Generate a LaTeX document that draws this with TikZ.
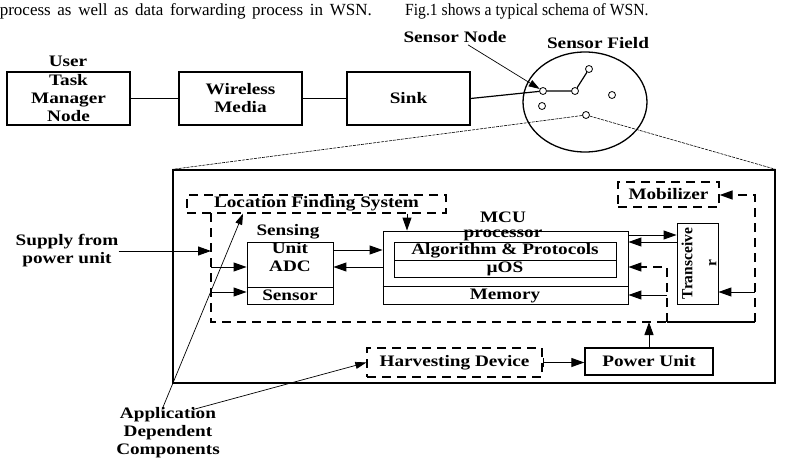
\documentclass[tikz,border=0pt]{standalone}
\usepackage{fontspec}
\setmainfont{Liberation Serif}[FakeStretch=1.2]
\newfontfamily\plainfont{Liberation Serif}
\usetikzlibrary{arrows.meta,shapes.geometric,calc}
\begin{document}
\begin{tikzpicture}[x=1pt,y=-1pt,
  font=\fontsize{16}{18}\selectfont\bfseries,
  box/.style={draw, line width=1.3pt, inner sep=0pt, align=center},
  ibox/.style={draw, line width=0.9pt, inner sep=0pt, align=center},
  dbox/.style={draw, line width=1.3pt, dash pattern=on 9pt off 6pt, inner sep=0pt, align=center},
  dline/.style={line width=1.3pt, dash pattern=on 9pt off 6pt},
  txt/.style={inner sep=0pt, align=center},
  tip/.style={-{Triangle[length=13pt,width=9pt]}},
  arr/.style={tip, line width=1pt},
  tarr/.style={-{Triangle[length=11pt,width=7pt]}, line width=0.7pt},
  fine/.style={line width=0.6pt, dash pattern=on 3pt off 1pt},
  sn/.style={draw, circle, minimum size=7pt, inner sep=0pt, line width=0.8pt}]
\useasboundingbox (0,0) rectangle (787,460);
% running text
\node[inner sep=0pt, anchor=base east, font=\plainfont\mdseries\fontsize{17}{18}\selectfont] (t1) at (372,16)
  {\makebox[372pt][s]{process as well as data forwarding process in WSN.}};
\node[inner sep=0pt, anchor=base west, font=\plainfont\mdseries\fontsize{17}{18}\selectfont] (t2) at (405,16)
  {\scalebox{0.92}[1]{Fig.1 shows a typical schema of WSN.}};
% top chain
\node[box, minimum width=123pt, minimum height=53pt] (um) at (68.5,98.5) {Task\\Manager\\Node};
\node[txt] (user) at (68,61) {User};
\node[box, minimum width=123pt, minimum height=53pt] (wm) at (240.5,98.5) {Wireless\\Media};
\node[box, minimum width=123pt, minimum height=53pt] (sink) at (408.5,98.5) {Sink};
\draw[line width=1.2pt] (um) -- (wm);
\draw[line width=1.2pt] (wm) -- (sink);
% sensor field
\node[draw, ellipse, minimum width=124pt, minimum height=100pt, line width=1.3pt] (field) at (585,102) {};
\node[sn] (s1) at (543,91) {};
\node[sn] (s2) at (575,91) {};
\node[sn] (s3) at (589,69) {};
\node[sn] (s4) at (612,95) {};
\node[sn] (s5) at (542,106) {};
\node[sn] (s6) at (586,115) {};
\draw[line width=1.2pt] (s1) -- (s2) -- (s3);
\draw[line width=1.2pt] (sink.east) -- (s1);
\node[txt] (snl) at (455,37) {Sensor Node};
\node[txt] (sfl) at (598,43) {Sensor Field};
\draw[tarr] ([xshift=13pt,yshift=-2pt]snl.south) -- (s1);
% big box
\node[box, minimum width=602pt, minimum height=213pt] (big) at (474,276.5) {};
\draw[fine] (s6) -- (big.north west);
\draw[fine] (s6) -- (big.north east);
\node[dbox, minimum width=259pt, minimum height=18pt] (lfs) at (316.5,204) {Location Finding System};
\node[dbox, minimum width=101pt, minimum height=25pt] (mob) at (668.5,194.5) {Mobilizer};
% MCU
\node[ibox, minimum width=245pt, minimum height=73pt] (mcu) at (505.5,267.5) {};
\node[ibox, minimum width=222pt, minimum height=18pt] (alg) at (505,251) {Algorithm \& Protocols};
\node[ibox, minimum width=222pt, minimum height=17pt] (os) at (505,268.5) {µOS};
\draw[line width=0.9pt] (mcu.west |- 0,286) -- (mcu.east |- 0,286);
\node[txt] (mem) at (505,295.5) {Memory};
\node[txt] (mcul) at (503,217.5) {MCU};
\node[txt] (proc) at (503,235) {processor};
% sensing unit
\node[ibox, minimum width=86pt, minimum height=62pt] (su) at (290,273) {};
\draw[line width=0.9pt] (su.west |- 0,287) -- (su.east |- 0,287);
\node[txt] (adc) at (290,257) {Unit\\ADC};
\node[txt] (sen) at (290,295.5) {Sensor};
\node[txt] (sensing) at (288,232) {Sensing};
% transceiver
\node[ibox, minimum width=41pt, minimum height=81pt] (tr) at (697.5,263.5) {};
\node[txt, rotate=90, font=\plainfont\bfseries\fontsize{15.5}{24}\selectfont] (trl) at (699,263.5) {Transceive\\r};
% power
\node[box, minimum width=128pt, minimum height=27pt] (pu) at (649,361.5) {Power Unit};
\node[dbox, minimum width=175pt, minimum height=29pt] (hd) at (454.5,362.5) {Harvesting Device};
\draw[{Bar[width=9pt]}-{Triangle[length=13pt,width=9pt]}, line width=1pt] (hd.east) -- (hd.east -| pu.west);
% dashed application region
\draw[dline] (211,213) -- (211,322) -- (667,322);
\draw[dline, tip] (667,322) -- (667,267) -- (mcu.east |- 0,267);
\draw[line width=1.3pt] (667,322) -- (755,322);
\draw[dline, tip] (755,322) -- (755,195) -- (mob.east |- 0,195);
\draw[arr] (755,292) -- (tr.east |- 0,292);
\draw[arr] (667,295) -- (mcu.east |- 0,295);
\draw[arr] (pu.north) -- (pu.north |- 0,322);
\draw[arr] (211,267) -- (su.west |- 0,267);
\draw[arr] (211,292) -- (su.west |- 0,292);
\draw[arr] (su.east |- 0,250) -- (mcu.west |- 0,250);
\draw[arr] (mcu.west |- 0,267) -- (su.east |- 0,267);
\draw[arr] (mcu.east |- 0,235) -- (tr.west |- 0,235);
\draw[arr] (tr.west |- 0,242) -- (mcu.east |- 0,242);
\draw[arr] (lfs.south -| 407,0) -- (mcu.north -| 407,0);
% supply
\node[txt] (sup) at (67,251) {Supply from\\power unit};
\draw[arr] (sup.east) -- (211,251);
% application dependent
\node[txt] (app) at (168,433) {Application\\Dependent\\Components};
\draw[tarr] ([xshift=-6pt,yshift=-2pt]app.north) -- (lfs.south -| 243,0);
\draw[tarr] ([xshift=25pt,yshift=-2pt]app.north) -- (hd.west);
\end{tikzpicture}
\end{document}
